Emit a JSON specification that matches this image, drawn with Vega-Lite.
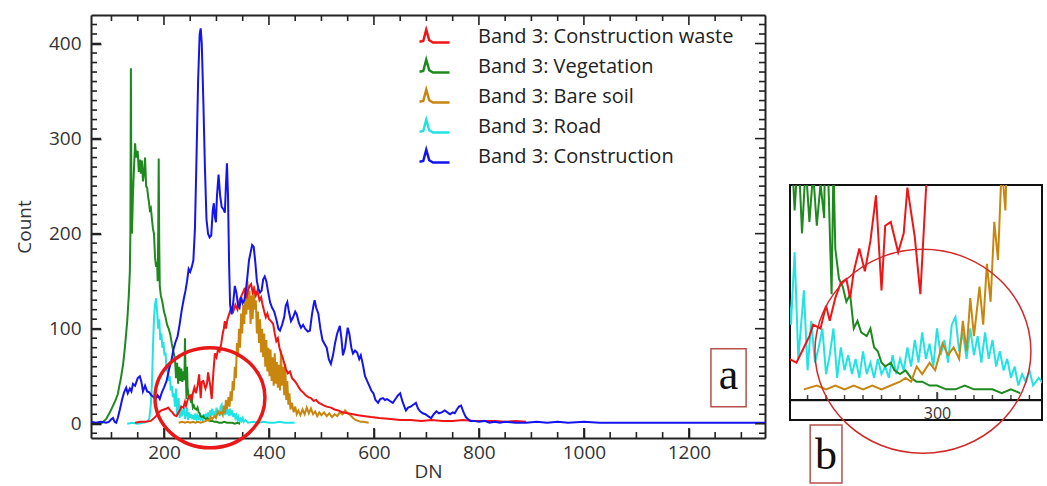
{
"$schema": "https://vega.github.io/schema/vega-lite/v6.json",
"autosize": {"type": "pad"},
"padding": {"left": 15, "top": 14, "right": 0, "bottom": 0},
"background": "white",
"config": {"font": "Open Sans", "view": {"stroke": null}},
"datasets": {
"mxMaj": [{"v":200},{"v":400},{"v":600},{"v":800},{"v":1000},{"v":1200}],
"mxMin": [{"v":100},{"v":150},{"v":250},{"v":300},{"v":350},{"v":450},{"v":500},{"v":550},{"v":650},{"v":700},{"v":750},{"v":850},{"v":900},{"v":950},{"v":1050},{"v":1100},{"v":1150},{"v":1250},{"v":1300}],
"myMaj": [{"v":0},{"v":100},{"v":200},{"v":300},{"v":400}],
"myMin": [{"v":-10},{"v":10},{"v":20},{"v":30},{"v":40},{"v":50},{"v":60},{"v":70},{"v":80},{"v":90},{"v":110},{"v":120},{"v":130},{"v":140},{"v":150},{"v":160},{"v":170},{"v":180},{"v":190},{"v":210},{"v":220},{"v":230},{"v":240},{"v":250},{"v":260},{"v":270},{"v":280},{"v":290},{"v":310},{"v":320},{"v":330},{"v":340},{"v":350},{"v":360},{"v":370},{"v":380},{"v":390},{"v":410},{"v":420}],
"ixMaj": [{"v":300}],
"ixMin": [{"v":230},{"v":240},{"v":250},{"v":260},{"v":270},{"v":280},{"v":290},{"v":310},{"v":320},{"v":330},{"v":340},{"v":350}],
"hist": [
{"series":"Road","dn":130,"count":0},{"series":"Road","dn":140,"count":1},{"series":"Road","dn":150,"count":0},{"series":"Road","dn":160,"count":1},{"series":"Road","dn":168,"count":2},{"series":"Road","dn":172,"count":5},{"series":"Road","dn":175,"count":20},{"series":"Road","dn":177,"count":40},{"series":"Road","dn":179,"count":80},{"series":"Road","dn":181,"count":110},{"series":"Road","dn":183,"count":125},{"series":"Road","dn":185,"count":132},{"series":"Road","dn":187,"count":118},{"series":"Road","dn":189,"count":100},{"series":"Road","dn":191,"count":110},{"series":"Road","dn":193,"count":88},{"series":"Road","dn":195,"count":95},{"series":"Road","dn":197,"count":80},{"series":"Road","dn":199,"count":86},{"series":"Road","dn":201,"count":72},{"series":"Road","dn":203,"count":75},{"series":"Road","dn":205,"count":55},{"series":"Road","dn":207,"count":62},{"series":"Road","dn":209,"count":45},{"series":"Road","dn":211,"count":50},{"series":"Road","dn":213,"count":35},{"series":"Road","dn":215,"count":40},{"series":"Road","dn":217,"count":28},{"series":"Road","dn":219,"count":32},{"series":"Road","dn":221,"count":18},{"series":"Road","dn":223,"count":37},{"series":"Road","dn":225,"count":9},{"series":"Road","dn":228,"count":27},{"series":"Road","dn":230,"count":6},{"series":"Road","dn":232,"count":19},{"series":"Road","dn":234,"count":8},{"series":"Road","dn":236,"count":12},{"series":"Road","dn":238,"count":17},{"series":"Road","dn":240,"count":5},{"series":"Road","dn":242,"count":10},{"series":"Road","dn":244,"count":17},{"series":"Road","dn":246,"count":4},{"series":"Road","dn":248,"count":12},{"series":"Road","dn":250,"count":6},{"series":"Road","dn":252,"count":10},{"series":"Road","dn":254,"count":5},{"series":"Road","dn":256,"count":9},{"series":"Road","dn":258,"count":4},{"series":"Road","dn":260,"count":11},{"series":"Road","dn":262,"count":5},{"series":"Road","dn":264,"count":8},{"series":"Road","dn":266,"count":4},{"series":"Road","dn":268,"count":9},{"series":"Road","dn":270,"count":5},{"series":"Road","dn":272,"count":7},{"series":"Road","dn":274,"count":4},{"series":"Road","dn":276,"count":10},{"series":"Road","dn":278,"count":5},{"series":"Road","dn":280,"count":9},{"series":"Road","dn":282,"count":6},{"series":"Road","dn":284,"count":12},{"series":"Road","dn":286,"count":7},{"series":"Road","dn":288,"count":14},{"series":"Road","dn":290,"count":8},{"series":"Road","dn":292,"count":16},{"series":"Road","dn":294,"count":9},{"series":"Road","dn":296,"count":13},{"series":"Road","dn":298,"count":7},{"series":"Road","dn":300,"count":17},{"series":"Road","dn":302,"count":10},{"series":"Road","dn":304,"count":14},{"series":"Road","dn":306,"count":8},{"series":"Road","dn":308,"count":18},{"series":"Road","dn":310,"count":20},{"series":"Road","dn":312,"count":11},{"series":"Road","dn":314,"count":16},{"series":"Road","dn":316,"count":9},{"series":"Road","dn":318,"count":17},{"series":"Road","dn":320,"count":10},{"series":"Road","dn":322,"count":15},{"series":"Road","dn":324,"count":8},{"series":"Road","dn":326,"count":16},{"series":"Road","dn":328,"count":9},{"series":"Road","dn":330,"count":14},{"series":"Road","dn":332,"count":7},{"series":"Road","dn":334,"count":11},{"series":"Road","dn":336,"count":6},{"series":"Road","dn":338,"count":9},{"series":"Road","dn":340,"count":4},{"series":"Road","dn":342,"count":7},{"series":"Road","dn":344,"count":2},{"series":"Road","dn":346,"count":5},{"series":"Road","dn":348,"count":3},{"series":"Road","dn":350,"count":6},{"series":"Road","dn":352,"count":2},{"series":"Road","dn":355,"count":4},{"series":"Road","dn":360,"count":1},{"series":"Road","dn":370,"count":2},{"series":"Road","dn":380,"count":1},{"series":"Road","dn":390,"count":2},{"series":"Road","dn":400,"count":1},{"series":"Road","dn":410,"count":1},{"series":"Road","dn":420,"count":2},{"series":"Road","dn":430,"count":1},{"series":"Road","dn":440,"count":1},{"series":"Road","dn":449,"count":1},

{"series":"Vegetation","dn":80,"count":0},{"series":"Vegetation","dn":90,"count":5},{"series":"Vegetation","dn":97,"count":12},{"series":"Vegetation","dn":103,"count":19},{"series":"Vegetation","dn":108,"count":25},{"series":"Vegetation","dn":112,"count":31},{"series":"Vegetation","dn":115,"count":40},{"series":"Vegetation","dn":118,"count":48},{"series":"Vegetation","dn":122,"count":62},{"series":"Vegetation","dn":125,"count":77},{"series":"Vegetation","dn":128,"count":95},{"series":"Vegetation","dn":130,"count":108},{"series":"Vegetation","dn":133,"count":135},{"series":"Vegetation","dn":135,"count":160},{"series":"Vegetation","dn":136,"count":200},{"series":"Vegetation","dn":137,"count":374},{"series":"Vegetation","dn":138,"count":240},{"series":"Vegetation","dn":139,"count":200},{"series":"Vegetation","dn":141,"count":242},{"series":"Vegetation","dn":143,"count":270},{"series":"Vegetation","dn":145,"count":295},{"series":"Vegetation","dn":147,"count":280},{"series":"Vegetation","dn":148,"count":284},{"series":"Vegetation","dn":150,"count":287},{"series":"Vegetation","dn":152,"count":265},{"series":"Vegetation","dn":154,"count":278},{"series":"Vegetation","dn":156,"count":263},{"series":"Vegetation","dn":158,"count":277},{"series":"Vegetation","dn":160,"count":255},{"series":"Vegetation","dn":162,"count":263},{"series":"Vegetation","dn":164,"count":280},{"series":"Vegetation","dn":166,"count":250},{"series":"Vegetation","dn":168,"count":248},{"series":"Vegetation","dn":170,"count":238},{"series":"Vegetation","dn":171,"count":235},{"series":"Vegetation","dn":173,"count":225},{"series":"Vegetation","dn":175,"count":227},{"series":"Vegetation","dn":177,"count":216},{"series":"Vegetation","dn":179,"count":205},{"series":"Vegetation","dn":181,"count":200},{"series":"Vegetation","dn":183,"count":175},{"series":"Vegetation","dn":185,"count":165},{"series":"Vegetation","dn":187,"count":170},{"series":"Vegetation","dn":188,"count":150},{"series":"Vegetation","dn":189,"count":200},{"series":"Vegetation","dn":190,"count":279},{"series":"Vegetation","dn":191,"count":190},{"series":"Vegetation","dn":192,"count":145},{"series":"Vegetation","dn":194,"count":135},{"series":"Vegetation","dn":197,"count":128},{"series":"Vegetation","dn":200,"count":118},{"series":"Vegetation","dn":203,"count":112},{"series":"Vegetation","dn":206,"count":104},{"series":"Vegetation","dn":209,"count":100},{"series":"Vegetation","dn":212,"count":94},{"series":"Vegetation","dn":215,"count":84},{"series":"Vegetation","dn":218,"count":76},{"series":"Vegetation","dn":221,"count":68},{"series":"Vegetation","dn":223,"count":48},{"series":"Vegetation","dn":225,"count":64},{"series":"Vegetation","dn":227,"count":42},{"series":"Vegetation","dn":229,"count":60},{"series":"Vegetation","dn":231,"count":45},{"series":"Vegetation","dn":233,"count":58},{"series":"Vegetation","dn":235,"count":44},{"series":"Vegetation","dn":237,"count":55},{"series":"Vegetation","dn":239,"count":46},{"series":"Vegetation","dn":240,"count":90},{"series":"Vegetation","dn":241,"count":60},{"series":"Vegetation","dn":243,"count":26},{"series":"Vegetation","dn":244,"count":60},{"series":"Vegetation","dn":245,"count":38},{"series":"Vegetation","dn":247,"count":30},{"series":"Vegetation","dn":249,"count":28},{"series":"Vegetation","dn":251,"count":24},{"series":"Vegetation","dn":253,"count":26},{"series":"Vegetation","dn":255,"count":17},{"series":"Vegetation","dn":257,"count":19},{"series":"Vegetation","dn":259,"count":16},{"series":"Vegetation","dn":262,"count":15},{"series":"Vegetation","dn":264,"count":17},{"series":"Vegetation","dn":266,"count":12},{"series":"Vegetation","dn":268,"count":11},{"series":"Vegetation","dn":270,"count":8},{"series":"Vegetation","dn":272,"count":7},{"series":"Vegetation","dn":275,"count":8},{"series":"Vegetation","dn":277,"count":6},{"series":"Vegetation","dn":280,"count":5},{"series":"Vegetation","dn":283,"count":6},{"series":"Vegetation","dn":286,"count":4},{"series":"Vegetation","dn":289,"count":3},{"series":"Vegetation","dn":292,"count":3},{"series":"Vegetation","dn":296,"count":2},{"series":"Vegetation","dn":300,"count":2},{"series":"Vegetation","dn":305,"count":1},{"series":"Vegetation","dn":310,"count":1},{"series":"Vegetation","dn":315,"count":2},{"series":"Vegetation","dn":320,"count":1},{"series":"Vegetation","dn":325,"count":1},{"series":"Vegetation","dn":330,"count":1},{"series":"Vegetation","dn":335,"count":0},{"series":"Vegetation","dn":340,"count":1},{"series":"Vegetation","dn":345,"count":0},

{"series":"Bare soil","dn":228,"count":1},{"series":"Bare soil","dn":235,"count":2},{"series":"Bare soil","dn":240,"count":1},{"series":"Bare soil","dn":245,"count":2},{"series":"Bare soil","dn":250,"count":1},{"series":"Bare soil","dn":255,"count":2},{"series":"Bare soil","dn":260,"count":1},{"series":"Bare soil","dn":265,"count":2},{"series":"Bare soil","dn":270,"count":1},{"series":"Bare soil","dn":275,"count":2},{"series":"Bare soil","dn":280,"count":3},{"series":"Bare soil","dn":283,"count":4},{"series":"Bare soil","dn":286,"count":3},{"series":"Bare soil","dn":289,"count":7},{"series":"Bare soil","dn":292,"count":5},{"series":"Bare soil","dn":296,"count":8},{"series":"Bare soil","dn":299,"count":6},{"series":"Bare soil","dn":303,"count":13},{"series":"Bare soil","dn":306,"count":10},{"series":"Bare soil","dn":309,"count":12},{"series":"Bare soil","dn":312,"count":9},{"series":"Bare soil","dn":314,"count":19},{"series":"Bare soil","dn":316,"count":11},{"series":"Bare soil","dn":318,"count":25},{"series":"Bare soil","dn":320,"count":15},{"series":"Bare soil","dn":323,"count":28},{"series":"Bare soil","dn":325,"count":18},{"series":"Bare soil","dn":327,"count":34},{"series":"Bare soil","dn":329,"count":24},{"series":"Bare soil","dn":331,"count":45},{"series":"Bare soil","dn":333,"count":35},{"series":"Bare soil","dn":335,"count":60},{"series":"Bare soil","dn":337,"count":48},{"series":"Bare soil","dn":339,"count":85},{"series":"Bare soil","dn":341,"count":70},{"series":"Bare soil","dn":343,"count":100},{"series":"Bare soil","dn":345,"count":80},{"series":"Bare soil","dn":347,"count":116},{"series":"Bare soil","dn":349,"count":95},{"series":"Bare soil","dn":351,"count":125},{"series":"Bare soil","dn":353,"count":105},{"series":"Bare soil","dn":355,"count":140},{"series":"Bare soil","dn":357,"count":115},{"series":"Bare soil","dn":359,"count":150},{"series":"Bare soil","dn":361,"count":120},{"series":"Bare soil","dn":363,"count":140},{"series":"Bare soil","dn":365,"count":105},{"series":"Bare soil","dn":367,"count":135},{"series":"Bare soil","dn":369,"count":110},{"series":"Bare soil","dn":371,"count":145},{"series":"Bare soil","dn":373,"count":120},{"series":"Bare soil","dn":375,"count":130},{"series":"Bare soil","dn":377,"count":95},{"series":"Bare soil","dn":379,"count":118},{"series":"Bare soil","dn":381,"count":85},{"series":"Bare soil","dn":383,"count":110},{"series":"Bare soil","dn":385,"count":75},{"series":"Bare soil","dn":387,"count":100},{"series":"Bare soil","dn":389,"count":70},{"series":"Bare soil","dn":391,"count":95},{"series":"Bare soil","dn":393,"count":60},{"series":"Bare soil","dn":395,"count":88},{"series":"Bare soil","dn":397,"count":55},{"series":"Bare soil","dn":399,"count":80},{"series":"Bare soil","dn":401,"count":50},{"series":"Bare soil","dn":403,"count":78},{"series":"Bare soil","dn":405,"count":45},{"series":"Bare soil","dn":407,"count":70},{"series":"Bare soil","dn":409,"count":40},{"series":"Bare soil","dn":411,"count":74},{"series":"Bare soil","dn":413,"count":42},{"series":"Bare soil","dn":415,"count":65},{"series":"Bare soil","dn":417,"count":38},{"series":"Bare soil","dn":419,"count":62},{"series":"Bare soil","dn":421,"count":35},{"series":"Bare soil","dn":423,"count":77},{"series":"Bare soil","dn":425,"count":40},{"series":"Bare soil","dn":427,"count":60},{"series":"Bare soil","dn":429,"count":30},{"series":"Bare soil","dn":431,"count":63},{"series":"Bare soil","dn":433,"count":25},{"series":"Bare soil","dn":435,"count":45},{"series":"Bare soil","dn":437,"count":20},{"series":"Bare soil","dn":439,"count":32},{"series":"Bare soil","dn":441,"count":15},{"series":"Bare soil","dn":444,"count":22},{"series":"Bare soil","dn":447,"count":12},{"series":"Bare soil","dn":450,"count":18},{"series":"Bare soil","dn":453,"count":10},{"series":"Bare soil","dn":456,"count":14},{"series":"Bare soil","dn":460,"count":9},{"series":"Bare soil","dn":464,"count":15},{"series":"Bare soil","dn":468,"count":10},{"series":"Bare soil","dn":472,"count":17},{"series":"Bare soil","dn":476,"count":11},{"series":"Bare soil","dn":480,"count":16},{"series":"Bare soil","dn":484,"count":10},{"series":"Bare soil","dn":488,"count":13},{"series":"Bare soil","dn":492,"count":8},{"series":"Bare soil","dn":496,"count":12},{"series":"Bare soil","dn":500,"count":9},{"series":"Bare soil","dn":505,"count":12},{"series":"Bare soil","dn":510,"count":8},{"series":"Bare soil","dn":515,"count":11},{"series":"Bare soil","dn":520,"count":7},{"series":"Bare soil","dn":525,"count":10},{"series":"Bare soil","dn":530,"count":8},{"series":"Bare soil","dn":535,"count":12},{"series":"Bare soil","dn":540,"count":10},{"series":"Bare soil","dn":545,"count":14},{"series":"Bare soil","dn":550,"count":11},{"series":"Bare soil","dn":555,"count":9},{"series":"Bare soil","dn":560,"count":6},{"series":"Bare soil","dn":565,"count":4},{"series":"Bare soil","dn":570,"count":3},{"series":"Bare soil","dn":575,"count":2},{"series":"Bare soil","dn":580,"count":2},{"series":"Bare soil","dn":590,"count":1},

{"series":"Construction waste","dn":145,"count":1},{"series":"Construction waste","dn":155,"count":2},{"series":"Construction waste","dn":165,"count":2},{"series":"Construction waste","dn":175,"count":3},{"series":"Construction waste","dn":185,"count":8},{"series":"Construction waste","dn":190,"count":12},{"series":"Construction waste","dn":195,"count":14},{"series":"Construction waste","dn":200,"count":15},{"series":"Construction waste","dn":205,"count":16},{"series":"Construction waste","dn":208,"count":17},{"series":"Construction waste","dn":212,"count":14},{"series":"Construction waste","dn":216,"count":12},{"series":"Construction waste","dn":220,"count":9},{"series":"Construction waste","dn":224,"count":8},{"series":"Construction waste","dn":228,"count":12},{"series":"Construction waste","dn":231,"count":15},{"series":"Construction waste","dn":233,"count":18},{"series":"Construction waste","dn":237,"count":17},{"series":"Construction waste","dn":240,"count":23},{"series":"Construction waste","dn":242,"count":19},{"series":"Construction waste","dn":245,"count":25},{"series":"Construction waste","dn":248,"count":29},{"series":"Construction waste","dn":251,"count":30},{"series":"Construction waste","dn":253,"count":25},{"series":"Construction waste","dn":255,"count":32},{"series":"Construction waste","dn":258,"count":38},{"series":"Construction waste","dn":261,"count":32},{"series":"Construction waste","dn":264,"count":40},{"series":"Construction waste","dn":267,"count":52},{"series":"Construction waste","dn":270,"count":27},{"series":"Construction waste","dn":272,"count":44},{"series":"Construction waste","dn":275,"count":45},{"series":"Construction waste","dn":279,"count":37},{"series":"Construction waste","dn":282,"count":42},{"series":"Construction waste","dn":284,"count":54},{"series":"Construction waste","dn":288,"count":41},{"series":"Construction waste","dn":291,"count":26},{"series":"Construction waste","dn":294,"count":53},{"series":"Construction waste","dn":297,"count":74},{"series":"Construction waste","dn":300,"count":70},{"series":"Construction waste","dn":303,"count":78},{"series":"Construction waste","dn":306,"count":76},{"series":"Construction waste","dn":309,"count":84},{"series":"Construction waste","dn":312,"count":95},{"series":"Construction waste","dn":314,"count":100},{"series":"Construction waste","dn":316,"count":108},{"series":"Construction waste","dn":318,"count":100},{"series":"Construction waste","dn":321,"count":110},{"series":"Construction waste","dn":324,"count":115},{"series":"Construction waste","dn":328,"count":122},{"series":"Construction waste","dn":332,"count":118},{"series":"Construction waste","dn":336,"count":125},{"series":"Construction waste","dn":340,"count":120},{"series":"Construction waste","dn":344,"count":130},{"series":"Construction waste","dn":348,"count":135},{"series":"Construction waste","dn":352,"count":140},{"series":"Construction waste","dn":354,"count":143},{"series":"Construction waste","dn":357,"count":132},{"series":"Construction waste","dn":360,"count":140},{"series":"Construction waste","dn":363,"count":145},{"series":"Construction waste","dn":366,"count":147},{"series":"Construction waste","dn":369,"count":138},{"series":"Construction waste","dn":372,"count":142},{"series":"Construction waste","dn":375,"count":135},{"series":"Construction waste","dn":378,"count":140},{"series":"Construction waste","dn":382,"count":130},{"series":"Construction waste","dn":385,"count":133},{"series":"Construction waste","dn":388,"count":125},{"series":"Construction waste","dn":391,"count":118},{"series":"Construction waste","dn":394,"count":112},{"series":"Construction waste","dn":397,"count":116},{"series":"Construction waste","dn":400,"count":110},{"series":"Construction waste","dn":404,"count":108},{"series":"Construction waste","dn":408,"count":105},{"series":"Construction waste","dn":411,"count":95},{"series":"Construction waste","dn":414,"count":87},{"series":"Construction waste","dn":417,"count":90},{"series":"Construction waste","dn":420,"count":80},{"series":"Construction waste","dn":423,"count":74},{"series":"Construction waste","dn":426,"count":70},{"series":"Construction waste","dn":429,"count":64},{"series":"Construction waste","dn":432,"count":58},{"series":"Construction waste","dn":436,"count":53},{"series":"Construction waste","dn":440,"count":55},{"series":"Construction waste","dn":444,"count":48},{"series":"Construction waste","dn":449,"count":45},{"series":"Construction waste","dn":453,"count":42},{"series":"Construction waste","dn":457,"count":38},{"series":"Construction waste","dn":461,"count":35},{"series":"Construction waste","dn":465,"count":33},{"series":"Construction waste","dn":470,"count":30},{"series":"Construction waste","dn":475,"count":28},{"series":"Construction waste","dn":480,"count":27},{"series":"Construction waste","dn":485,"count":24},{"series":"Construction waste","dn":490,"count":25},{"series":"Construction waste","dn":495,"count":22},{"series":"Construction waste","dn":499,"count":21},{"series":"Construction waste","dn":505,"count":19},{"series":"Construction waste","dn":510,"count":18},{"series":"Construction waste","dn":518,"count":17},{"series":"Construction waste","dn":525,"count":15},{"series":"Construction waste","dn":532,"count":14},{"series":"Construction waste","dn":540,"count":12},{"series":"Construction waste","dn":550,"count":11},{"series":"Construction waste","dn":560,"count":10},{"series":"Construction waste","dn":570,"count":9},{"series":"Construction waste","dn":583,"count":8},{"series":"Construction waste","dn":595,"count":7},{"series":"Construction waste","dn":610,"count":6},{"series":"Construction waste","dn":632,"count":5},{"series":"Construction waste","dn":650,"count":4},{"series":"Construction waste","dn":670,"count":4},{"series":"Construction waste","dn":690,"count":3},{"series":"Construction waste","dn":710,"count":4},{"series":"Construction waste","dn":730,"count":3},{"series":"Construction waste","dn":750,"count":3},{"series":"Construction waste","dn":770,"count":4},{"series":"Construction waste","dn":790,"count":3},{"series":"Construction waste","dn":810,"count":3},{"series":"Construction waste","dn":830,"count":3},{"series":"Construction waste","dn":850,"count":2},{"series":"Construction waste","dn":870,"count":3},{"series":"Construction waste","dn":890,"count":2},

{"series":"Construction","dn":61,"count":2},{"series":"Construction","dn":70,"count":1},{"series":"Construction","dn":80,"count":2},{"series":"Construction","dn":90,"count":1},{"series":"Construction","dn":95,"count":2},{"series":"Construction","dn":100,"count":5},{"series":"Construction","dn":103,"count":6},{"series":"Construction","dn":106,"count":2},{"series":"Construction","dn":109,"count":1},{"series":"Construction","dn":112,"count":6},{"series":"Construction","dn":116,"count":15},{"series":"Construction","dn":120,"count":25},{"series":"Construction","dn":124,"count":33},{"series":"Construction","dn":128,"count":38},{"series":"Construction","dn":131,"count":32},{"series":"Construction","dn":135,"count":37},{"series":"Construction","dn":138,"count":34},{"series":"Construction","dn":141,"count":42},{"series":"Construction","dn":145,"count":40},{"series":"Construction","dn":150,"count":48},{"series":"Construction","dn":154,"count":50},{"series":"Construction","dn":157,"count":44},{"series":"Construction","dn":160,"count":34},{"series":"Construction","dn":164,"count":40},{"series":"Construction","dn":168,"count":34},{"series":"Construction","dn":172,"count":33},{"series":"Construction","dn":176,"count":30},{"series":"Construction","dn":180,"count":28},{"series":"Construction","dn":184,"count":26},{"series":"Construction","dn":188,"count":30},{"series":"Construction","dn":192,"count":26},{"series":"Construction","dn":196,"count":33},{"series":"Construction","dn":200,"count":38},{"series":"Construction","dn":205,"count":45},{"series":"Construction","dn":210,"count":58},{"series":"Construction","dn":214,"count":66},{"series":"Construction","dn":218,"count":78},{"series":"Construction","dn":222,"count":86},{"series":"Construction","dn":226,"count":92},{"series":"Construction","dn":230,"count":105},{"series":"Construction","dn":234,"count":120},{"series":"Construction","dn":238,"count":132},{"series":"Construction","dn":241,"count":140},{"series":"Construction","dn":244,"count":150},{"series":"Construction","dn":247,"count":163},{"series":"Construction","dn":250,"count":160},{"series":"Construction","dn":253,"count":165},{"series":"Construction","dn":256,"count":172},{"series":"Construction","dn":259,"count":205},{"series":"Construction","dn":262,"count":280},{"series":"Construction","dn":265,"count":360},{"series":"Construction","dn":268,"count":410},{"series":"Construction","dn":270,"count":416},{"series":"Construction","dn":272,"count":400},{"series":"Construction","dn":275,"count":340},{"series":"Construction","dn":278,"count":270},{"series":"Construction","dn":281,"count":215},{"series":"Construction","dn":284,"count":200},{"series":"Construction","dn":287,"count":196},{"series":"Construction","dn":290,"count":198},{"series":"Construction","dn":293,"count":225},{"series":"Construction","dn":295,"count":232},{"series":"Construction","dn":297,"count":218},{"series":"Construction","dn":299,"count":212},{"series":"Construction","dn":301,"count":240},{"series":"Construction","dn":304,"count":262},{"series":"Construction","dn":307,"count":240},{"series":"Construction","dn":310,"count":228},{"series":"Construction","dn":313,"count":226},{"series":"Construction","dn":316,"count":222},{"series":"Construction","dn":318,"count":250},{"series":"Construction","dn":320,"count":274},{"series":"Construction","dn":322,"count":240},{"series":"Construction","dn":324,"count":170},{"series":"Construction","dn":326,"count":125},{"series":"Construction","dn":329,"count":115},{"series":"Construction","dn":332,"count":128},{"series":"Construction","dn":335,"count":145},{"series":"Construction","dn":338,"count":138},{"series":"Construction","dn":341,"count":125},{"series":"Construction","dn":344,"count":122},{"series":"Construction","dn":347,"count":133},{"series":"Construction","dn":350,"count":127},{"series":"Construction","dn":353,"count":130},{"series":"Construction","dn":356,"count":140},{"series":"Construction","dn":359,"count":155},{"series":"Construction","dn":362,"count":172},{"series":"Construction","dn":365,"count":180},{"series":"Construction","dn":368,"count":188},{"series":"Construction","dn":371,"count":186},{"series":"Construction","dn":374,"count":170},{"series":"Construction","dn":377,"count":150},{"series":"Construction","dn":380,"count":142},{"series":"Construction","dn":383,"count":138},{"series":"Construction","dn":386,"count":140},{"series":"Construction","dn":389,"count":152},{"series":"Construction","dn":392,"count":155},{"series":"Construction","dn":395,"count":150},{"series":"Construction","dn":398,"count":140},{"series":"Construction","dn":402,"count":128},{"series":"Construction","dn":406,"count":122},{"series":"Construction","dn":410,"count":118},{"series":"Construction","dn":414,"count":110},{"series":"Construction","dn":418,"count":100},{"series":"Construction","dn":421,"count":98},{"series":"Construction","dn":425,"count":104},{"series":"Construction","dn":429,"count":112},{"series":"Construction","dn":432,"count":124},{"series":"Construction","dn":435,"count":128},{"series":"Construction","dn":438,"count":118},{"series":"Construction","dn":442,"count":108},{"series":"Construction","dn":446,"count":112},{"series":"Construction","dn":450,"count":118},{"series":"Construction","dn":453,"count":115},{"series":"Construction","dn":457,"count":106},{"series":"Construction","dn":461,"count":101},{"series":"Construction","dn":465,"count":104},{"series":"Construction","dn":469,"count":100},{"series":"Construction","dn":474,"count":97},{"series":"Construction","dn":478,"count":98},{"series":"Construction","dn":482,"count":115},{"series":"Construction","dn":485,"count":125},{"series":"Construction","dn":487,"count":130},{"series":"Construction","dn":490,"count":122},{"series":"Construction","dn":494,"count":116},{"series":"Construction","dn":498,"count":100},{"series":"Construction","dn":502,"count":88},{"series":"Construction","dn":506,"count":84},{"series":"Construction","dn":510,"count":80},{"series":"Construction","dn":514,"count":68},{"series":"Construction","dn":518,"count":63},{"series":"Construction","dn":522,"count":72},{"series":"Construction","dn":526,"count":85},{"series":"Construction","dn":530,"count":95},{"series":"Construction","dn":535,"count":103},{"series":"Construction","dn":538,"count":90},{"series":"Construction","dn":541,"count":72},{"series":"Construction","dn":545,"count":80},{"series":"Construction","dn":550,"count":101},{"series":"Construction","dn":553,"count":95},{"series":"Construction","dn":557,"count":80},{"series":"Construction","dn":560,"count":74},{"series":"Construction","dn":564,"count":77},{"series":"Construction","dn":568,"count":75},{"series":"Construction","dn":572,"count":68},{"series":"Construction","dn":575,"count":72},{"series":"Construction","dn":579,"count":62},{"series":"Construction","dn":583,"count":50},{"series":"Construction","dn":587,"count":45},{"series":"Construction","dn":591,"count":40},{"series":"Construction","dn":595,"count":35},{"series":"Construction","dn":599,"count":32},{"series":"Construction","dn":603,"count":25},{"series":"Construction","dn":608,"count":22},{"series":"Construction","dn":612,"count":26},{"series":"Construction","dn":617,"count":27},{"series":"Construction","dn":621,"count":25},{"series":"Construction","dn":625,"count":26},{"series":"Construction","dn":630,"count":24},{"series":"Construction","dn":636,"count":22},{"series":"Construction","dn":641,"count":26},{"series":"Construction","dn":646,"count":30},{"series":"Construction","dn":650,"count":32},{"series":"Construction","dn":654,"count":24},{"series":"Construction","dn":658,"count":18},{"series":"Construction","dn":661,"count":14},{"series":"Construction","dn":665,"count":17},{"series":"Construction","dn":670,"count":18},{"series":"Construction","dn":675,"count":20},{"series":"Construction","dn":680,"count":22},{"series":"Construction","dn":684,"count":16},{"series":"Construction","dn":688,"count":13},{"series":"Construction","dn":693,"count":11},{"series":"Construction","dn":698,"count":10},{"series":"Construction","dn":703,"count":8},{"series":"Construction","dn":709,"count":6},{"series":"Construction","dn":714,"count":10},{"series":"Construction","dn":719,"count":13},{"series":"Construction","dn":724,"count":11},{"series":"Construction","dn":729,"count":12},{"series":"Construction","dn":735,"count":14},{"series":"Construction","dn":740,"count":12},{"series":"Construction","dn":745,"count":10},{"series":"Construction","dn":750,"count":12},{"series":"Construction","dn":754,"count":11},{"series":"Construction","dn":758,"count":15},{"series":"Construction","dn":762,"count":18},{"series":"Construction","dn":766,"count":19},{"series":"Construction","dn":770,"count":13},{"series":"Construction","dn":775,"count":7},{"series":"Construction","dn":779,"count":5},{"series":"Construction","dn":784,"count":3},{"series":"Construction","dn":790,"count":3},{"series":"Construction","dn":800,"count":2},{"series":"Construction","dn":811,"count":3},{"series":"Construction","dn":820,"count":1},{"series":"Construction","dn":830,"count":2},{"series":"Construction","dn":840,"count":1},{"series":"Construction","dn":850,"count":2},{"series":"Construction","dn":870,"count":1},{"series":"Construction","dn":890,"count":1},{"series":"Construction","dn":910,"count":2},{"series":"Construction","dn":930,"count":1},{"series":"Construction","dn":950,"count":2},{"series":"Construction","dn":970,"count":1},{"series":"Construction","dn":1000,"count":2},{"series":"Construction","dn":1030,"count":1},{"series":"Construction","dn":1060,"count":1},{"series":"Construction","dn":1100,"count":1},{"series":"Construction","dn":1150,"count":1},{"series":"Construction","dn":1200,"count":1},{"series":"Construction","dn":1250,"count":1},{"series":"Construction","dn":1300,"count":1},{"series":"Construction","dn":1345,"count":1}
]
},
"hconcat": [
{
"width": 674, "height": 423,
"layer": [
{
"data": {"name": "hist"},
"mark": {"type": "line", "strokeWidth": 2},
"encoding": {
"x": {"field": "dn", "type": "quantitative", "scale": {"domain": [61, 1345], "nice": false, "zero": false},
"axis": {"orient": "bottom", "title": "DN", "format": "d", "values": [200,400,600,800,1000,1200], "tickSize": -10,
"labelPadding": 15, "labelFontSize": 19, "labelColor": "#333", "titleFontSize": 19, "titleColor": "#333", "titleFontWeight": "normal", "titlePadding": 0,
"domainColor": "#222", "domainWidth": 2, "tickColor": "#222", "tickWidth": 1.6, "grid": false}},
"y": {"field": "count", "type": "quantitative", "scale": {"domain": [-15, 430], "nice": false, "zero": false},
"axis": {"orient": "left", "title": "Count", "values": [0,100,200,300,400], "tickSize": -10,
"labelPadding": 20, "labelFontSize": 19, "labelColor": "#333", "titleFontSize": 19, "titleColor": "#333", "titleFontWeight": "normal", "titlePadding": 14,
"domainColor": "#222", "domainWidth": 2, "tickColor": "#222", "tickWidth": 1.6, "grid": false}},
"color": {"field": "series", "type": "nominal",
"scale": {"domain": ["Construction waste", "Vegetation", "Bare soil", "Road", "Construction"], "range": ["#f01414", "#1e8a1e", "#c8860f", "#22e3e3", "#1414ee"]},
"legend": {"orient": "none", "legendX": 327, "legendY": 5, "title": null, "labelExpr": "'Band 3: ' + datum.label", "labelLimit": 500,
"symbolType": "M-1,0.35L-0.75,0.3L-0.55,-0.45L-0.35,0.25L-0.1,0.4L1,0.4", "symbolSize": 900, "symbolStrokeWidth": 2.5, "symbolFillColor": "transparent",
"labelFontSize": 20, "labelColor": "#222", "labelOffset": 27, "rowPadding": 2, "padding": 0, "labelFont": "Open Sans"}}
}
},
{
"data": {"values": [{"label": "a", "x1": 1242, "x2": 1309, "y1": 18, "y2": 79}]},
"mark": {"type": "rect", "fill": "white", "stroke": "#b8504c", "strokeWidth": 1.5},
"encoding": {
"x": {"field": "x1", "type": "quantitative", "scale": {"domain": [61, 1345], "nice": false, "zero": false},
"axis": {"orient": "top", "title": null, "labels": false, "ticks": false, "domainColor": "#222", "domainWidth": 2, "grid": false}},
"x2": {"field": "x2"},
"y": {"field": "y1", "type": "quantitative", "scale": {"domain": [-15, 430], "nice": false, "zero": false},
"axis": {"orient": "right", "title": null, "labels": false, "ticks": false, "domainColor": "#222", "domainWidth": 2, "grid": false}},
"y2": {"field": "y2"}
}
},
{
"data": {"name": "mxMaj"},
"mark": {"type": "rule", "color": "#222", "strokeWidth": 1.6},
"encoding": {"x": {"field": "v", "type": "quantitative", "axis": null}, "y": {"datum": -15, "axis": null}, "y2": {"datum": -4.5}}
},
{
"data": {"name": "mxMin"},
"mark": {"type": "rule", "color": "#222", "strokeWidth": 1.6},
"encoding": {"x": {"field": "v", "type": "quantitative", "axis": null}, "y": {"datum": -15, "axis": null}, "y2": {"datum": -8.7}}
},
{
"data": {"name": "mxMaj"},
"mark": {"type": "rule", "color": "#222", "strokeWidth": 1.6},
"encoding": {"x": {"field": "v", "type": "quantitative", "axis": null}, "y": {"datum": 430, "axis": null}, "y2": {"datum": 419.5}}
},
{
"data": {"name": "mxMin"},
"mark": {"type": "rule", "color": "#222", "strokeWidth": 1.6},
"encoding": {"x": {"field": "v", "type": "quantitative", "axis": null}, "y": {"datum": 430, "axis": null}, "y2": {"datum": 423.7}}
},
{
"data": {"name": "myMaj"},
"mark": {"type": "rule", "color": "#222", "strokeWidth": 1.6},
"encoding": {"y": {"field": "v", "type": "quantitative", "axis": null}, "x": {"datum": 61, "axis": null}, "x2": {"datum": 80}}
},
{
"data": {"name": "myMin"},
"mark": {"type": "rule", "color": "#222", "strokeWidth": 1.6},
"encoding": {"y": {"field": "v", "type": "quantitative", "axis": null}, "x": {"datum": 61, "axis": null}, "x2": {"datum": 72.4}}
},
{
"data": {"name": "myMaj"},
"mark": {"type": "rule", "color": "#222", "strokeWidth": 1.6},
"encoding": {"y": {"field": "v", "type": "quantitative", "axis": null}, "x": {"datum": 1345, "axis": null}, "x2": {"datum": 1326}}
},
{
"data": {"name": "myMin"},
"mark": {"type": "rule", "color": "#222", "strokeWidth": 1.6},
"encoding": {"y": {"field": "v", "type": "quantitative", "axis": null}, "x": {"datum": 1345, "axis": null}, "x2": {"datum": 1333.6}}
},
{
"data": {"values": [{"dn": 287.6, "count": 27.4}]},
"mark": {"type": "point", "shape": "M-1,0C-1,-0.5026,-0.5523,-0.91,0,-0.91C0.5523,-0.91,1,-0.5026,1,0C1,0.5026,0.5523,0.91,0,0.91C-0.5523,0.91,-1,0.5026,-1,0Z", "size": 12100, "filled": false, "stroke": "#e81818", "strokeWidth": 3.5, "opacity": 1},
"encoding": {
"x": {"field": "dn", "type": "quantitative", "axis": null},
"y": {"field": "count", "type": "quantitative", "axis": null}
}
},
{
"data": {"values": [{"label": "a", "x": 1275.5, "y": 50}]},
"mark": {"type": "text", "font": "Liberation Serif", "fontSize": 44, "color": "#111", "baseline": "middle", "align": "center"},
"encoding": {
"x": {"field": "x", "type": "quantitative", "axis": null},
"y": {"field": "y", "type": "quantitative", "axis": null},
"text": {"field": "label"}
}
}
],
"resolve": {"axis": {"x": "independent", "y": "independent"}}
},
{
"spacing": 0,
"vconcat": [
{
"width": 252, "height": 169,
"data": {"values": [{"t": ""}]},
"mark": {"type": "text"},
"encoding": {"text": {"field": "t"}}
},
{
"width": 252, "height": 215,
"view": {"stroke": "#111", "strokeWidth": 2},
"layer": [
{
"data": {"name": "hist"},
"mark": {"type": "line", "strokeWidth": 2, "clip": true},
"encoding": {
"x": {"field": "dn", "type": "quantitative", "scale": {"domain": [220.5, 356.8], "nice": false, "zero": false},
"axis": {"orient": "bottom", "title": null, "values": [300], "tickSize": -8,
"labelPadding": 13, "labelFontSize": 16, "labelColor": "#333", "domainColor": "#444", "domainWidth": 1.5, "tickColor": "#444", "tickWidth": 1.5, "grid": false}},
"y": {"field": "count", "type": "quantitative", "scale": {"domain": [-1.8, 54.7], "nice": false, "zero": false}, "axis": null},
"color": {"field": "series", "type": "nominal",
"scale": {"domain": ["Construction waste", "Vegetation", "Bare soil", "Road", "Construction"], "range": ["#f01414", "#1e8a1e", "#c8860f", "#22e3e3", "#1414ee"]},
"legend": null}
}
},
{
"data": {"name": "ixMaj"},
"mark": {"type": "rule", "color": "#444", "strokeWidth": 1.5},
"encoding": {"x": {"field": "v", "type": "quantitative", "axis": null}, "y": {"datum": -1.8, "axis": null}, "y2": {"datum": 0.3}}
},
{
"data": {"name": "ixMin"},
"mark": {"type": "rule", "color": "#444", "strokeWidth": 1.5},
"encoding": {"x": {"field": "v", "type": "quantitative", "axis": null}, "y": {"datum": -1.8, "axis": null}, "y2": {"datum": -0.49}}
},
{
"data": {"values": [{"x1": 220.5, "x2": 356.8, "y1": -1.8, "y2": -7.06}]},
"mark": {"type": "rect", "fill": "transparent", "stroke": "#111", "strokeWidth": 2},
"encoding": {
"x": {"field": "x1", "type": "quantitative", "axis": null},
"x2": {"field": "x2"},
"y": {"field": "y1", "type": "quantitative", "axis": null},
"y2": {"field": "y2"}
}
},
{
"data": {"values": [{"dn": 292.4, "count": 11}]},
"mark": {"type": "point", "shape": "M-1,0C-1,-0.5214,-0.5523,-0.944,0,-0.944C0.5523,-0.944,1,-0.5214,1,0C1,0.5214,0.5523,0.944,0,0.944C-0.5523,0.944,-1,0.5214,-1,0Z", "size": 46656, "filled": false, "stroke": "#d02a2a", "strokeWidth": 1.5, "opacity": 1},
"encoding": {
"x": {"field": "dn", "type": "quantitative", "axis": null},
"y": {"field": "count", "type": "quantitative", "axis": null}
}
},
{
"data": {"values": [{"label": "b", "x1": 231.4, "x2": 248.6, "y1": -8.4, "y2": -23.6}]},
"mark": {"type": "rect", "fill": "white", "stroke": "#b8504c", "strokeWidth": 1.5},
"encoding": {
"x": {"field": "x1", "type": "quantitative", "axis": null},
"x2": {"field": "x2"},
"y": {"field": "y1", "type": "quantitative", "axis": null},
"y2": {"field": "y2"}
}
},
{
"data": {"values": [{"label": "b", "x": 240, "y": -16.5}]},
"mark": {"type": "text", "font": "Liberation Serif", "fontSize": 44, "color": "#111", "baseline": "middle", "align": "center"},
"encoding": {
"x": {"field": "x", "type": "quantitative", "axis": null},
"y": {"field": "y", "type": "quantitative", "axis": null},
"text": {"field": "label"}
}
}
],
"resolve": {"axis": {"x": "independent", "y": "independent"}}
}
]
}
],
"spacing": 19,
"resolve": {"scale": {"color": "independent"}, "legend": {"color": "independent"}}
}
